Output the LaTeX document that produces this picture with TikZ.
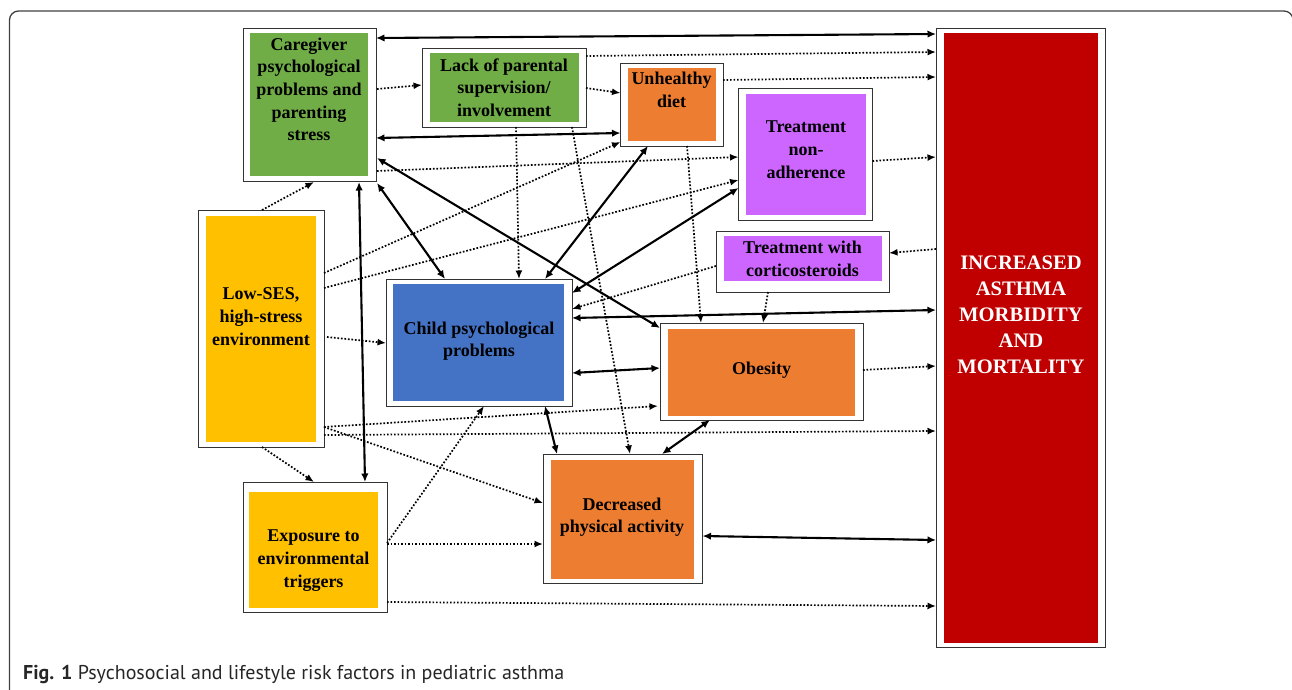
\documentclass[tikz,border=0pt]{standalone}
\usepackage{fontspec}
\usetikzlibrary{arrows.meta,calc}
\newfontfamily\lblfam{Liberation Serif}
\newfontfamily\capfam{PT Sans}
\definecolor{cgreen}{HTML}{70AD47}
\definecolor{corange}{HTML}{ED7D31}
\definecolor{cblue}{HTML}{4472C4}
\definecolor{cyellow}{HTML}{FFC000}
\definecolor{cpurple}{HTML}{CC66FF}
\definecolor{cred}{HTML}{C00000}
\tikzset{
 outerbox/.style={draw=black!80, line width=0.9pt, fill=white, inner sep=0pt, outer sep=0pt},
 innerbox/.style={inner sep=0pt, outer sep=0pt},
 lbl/.style={font=\lblfam\bfseries\fontsize{18}{22.7}\selectfont, align=center, inner sep=0pt, text=black},
 redlbl/.style={font=\lblfam\bfseries\fontsize{20.6}{26}\selectfont, align=center, inner sep=0pt, text=white},
 sol/.style={line width=2.1pt, {Latex[length=8.5pt,width=7.5pt]}-{Latex[length=8.5pt,width=7.5pt]}},
 dot/.style={line width=1.7pt, dash pattern=on 1.7pt off 1.8pt, -{Latex[length=8.5pt,width=7pt]}},
 frame/.style={draw=black!75, line width=1.3pt, rounded corners=9pt},
}
\begin{document}
\begin{tikzpicture}[x=1pt,y=-1pt]
\useasboundingbox (0,0) rectangle (1292,689);
\draw[frame] (9.5,11) rectangle (1293,720);

% boxes
\node[outerbox, minimum width=133pt, minimum height=153pt] (cg) at (309.5,104.5) {};
\node[innerbox, fill=cgreen, minimum width=118pt, minimum height=143pt] (cgi) at (309,104.5) {};
\node[lbl] (cgt) at (309,89.25) {Caregiver\\psychological\\problems and\\parenting\\stress};

\node[outerbox, minimum width=164pt, minimum height=79pt] (lack) at (504,87.5) {};
\node[innerbox, fill=cgreen, minimum width=149pt, minimum height=69pt] (lacki) at (504,87.5) {};
\node[lbl] (lackt) at (504,87.5) {Lack of parental\\supervision/\\involvement};

\node[outerbox, minimum width=102.5pt, minimum height=83pt] (diet) at (671.75,104.5) {};
\node[innerbox, fill=corange, minimum width=88.5pt, minimum height=73pt] (dieti) at (671.75,104.5) {};
\node[lbl] (diett) at (671.5,90.15) {Unhealthy\\diet};

\node[outerbox, minimum width=134pt, minimum height=132pt] (tna) at (805.5,154) {};
\node[innerbox, fill=cpurple, minimum width=120pt, minimum height=121pt] (tnai) at (806,154.5) {};
\node[lbl] (tnat) at (806,149.55) {Treatment\\non-\\adherence};

\node[outerbox, minimum width=173pt, minimum height=61pt] (tcs) at (802.5,261.5) {};
\node[innerbox, fill=cpurple, minimum width=158pt, minimum height=45pt] (tcsi) at (803,258.5) {};
\node[lbl] (tcst) at (802.5,259.15) {Treatment with\\corticosteroids};

\node[outerbox, minimum width=126pt, minimum height=237pt] (ses) at (261,328.5) {};
\node[innerbox, fill=cyellow, minimum width=110pt, minimum height=226pt] (sesi) at (261,329) {};
\node[lbl] (sest) at (261,316.55) {Low-SES,\\high-stress\\environment};

\node[outerbox, minimum width=186pt, minimum height=127pt] (cpp) at (479,342.5) {};
\node[innerbox, fill=cblue, minimum width=171pt, minimum height=117pt] (cppi) at (478.5,342.5) {};
\node[lbl] (cppt) at (479,341.15) {Child psychological\\problems};

\node[outerbox, minimum width=203pt, minimum height=97pt] (obe) at (761.5,371.5) {};
\node[innerbox, fill=corange, minimum width=187pt, minimum height=87pt] (obei) at (761.5,372.5) {};
\node[lbl] (obet) at (761.5,369.8) {Obesity};

\node[outerbox, minimum width=159.5pt, minimum height=129pt] (dpa) at (622.75,518.5) {};
\node[innerbox, fill=corange, minimum width=143pt, minimum height=119pt] (dpai) at (622.5,519.5) {};
\node[lbl] (dpat) at (622,517.15) {Decreased\\physical activity};

\node[outerbox, minimum width=144pt, minimum height=130pt] (exp) at (315,547) {};
\node[innerbox, fill=cyellow, minimum width=129pt, minimum height=116pt] (expi) at (313.5,550) {};
\node[lbl] (expt) at (313.5,560.6) {Exposure to\\environmental\\triggers};

\node[outerbox, minimum width=169pt, minimum height=619pt] (red) at (1020.5,337.5) {};
\node[innerbox, fill=cred, minimum width=154pt, minimum height=610pt] (redi) at (1021,338) {};
\node[redlbl] (redt) at (1021,315) {INCREASED\\ASTHMA\\MORBIDITY\\AND\\MORTALITY};

% solid double arrows
\draw[sol] ($(cg.north east)+(0,10)$) -- ($(red.north west)+(0,6)$);
\draw[sol] ($(cg.north east)+(0,110)$) -- ($(diet.north west)+(0,70)$);
\draw[sol] ($(cg.south east)+(1,2)$) -- ($(cpp.north west)+(59,0)$);
\draw[sol] ($(cg.north east)+(1,130)$) -- ($(obe.north west)+(0,5)$);
\draw[sol] ($(cg.south east)+(-17,1)$) -- ($(exp.north west)+(122,0)$);
\draw[sol] ($(diet.south west)+(27.5,0)$) -- ($(cpp.north west)+(159,0)$);
\draw[sol] ($(cpp.north east)+(0,14)$) -- ($(tna.north west)+(0,100)$);
\draw[sol] ($(cpp.north east)+(0,39)$) -- ($(red.north west)+(0,282)$);
\draw[sol] ($(cpp.north east)+(0,94)$) -- ($(obe.north west)+(0,45)$);
\draw[sol] ($(cpp.south west)+(159,0)$) -- ($(dpa.north west)+(14,0)$);
\draw[sol] ($(obe.south west)+(50,0)$) -- ($(dpa.north west)+(119,0)$);
\draw[sol] ($(dpa.north east)+(0,82)$) -- ($(red.north west)+(0,512)$);

% dotted arrows
\draw[dot] ($(cg.north east)+(1,61)$) -- ($(lack.north west)+(0,37)$);
\draw[dot] ($(cg.north east)+(1,143)$) -- ($(tna.north west)+(0,69)$);
\draw[dot] ($(ses.north)+(1,0)$) -- ($(cg.south west)+(71,1)$);
\draw[dot] ($(ses.north east)+(0,63)$) -- ($(diet.south west)+(0,-4)$);
\draw[dot] ($(ses.north east)+(0,78)$) -- ($(tna.north west)+(0,92)$);
\draw[dot] ($(ses.north east)+(3,127)$) -- ($(cpp.north west)+(0,64)$);
\draw[dot] ($(ses.south east)+(0,-20)$) -- ($(obe.south west)+(-2,-14)$);
\draw[dot] ($(ses.south east)+(0,-12)$) -- ($(red.north west)+(0,403)$);
\draw[dot] ($(ses.south east)+(0,-20)$) -- ($(dpa.north west)+(0,49)$);
\draw[dot] ($(ses.south)+(1,0)$) -- ($(exp.north west)+(71,0)$);
\draw[dot] ($(lack.south west)+(94,0)$) -- ($(cpp.north west)+(133,0)$);
\draw[dot] ($(lack.south west)+(150,0)$) -- ($(dpa.north west)+(87,0)$);
\draw[dot] ($(lack.north east)+(0,40)$) -- ($(diet.north west)+(0,30)$);
\draw[dot] ($(lack.north east)+(0,8)$) -- ($(red.north west)+(0,24)$);
\draw[dot] ($(diet.north east)+(0,17)$) -- ($(red.north west)+(0,49)$);
\draw[dot] ($(diet.south west)+(66.5,0)$) -- ($(obe.north west)+(41,0)$);
\draw[dot] ($(tna.north east)+(0,73)$) -- ($(red.north west)+(0,129)$);
\draw[dot] ($(red.north west)+(0,221)$) -- ($(tcs.north east)+(0,22)$);
\draw[dot] ($(tcs.north west)+(0,35)$) -- ($(cpp.north east)+(0,30)$);
\draw[dot] ($(tcs.south west)+(52,0)$) -- ($(obe.north west)+(103,0)$);
\draw[dot] ($(obe.north east)+(0,47)$) -- ($(red.north west)+(0,338)$);
\draw[dot] ($(exp.north east)+(0,61)$) -- ($(cpp.south west)+(98,0)$);
\draw[dot] ($(exp.north east)+(0,62)$) -- ($(dpa.north west)+(0,90)$);
\draw[dot] ($(exp.north east)+(0,120)$) -- ($(red.north west)+(0,578)$);

% caption
\node[anchor=base west, inner sep=0pt, font=\capfam\fontsize{20}{22}\selectfont, text=black!85] (cap) at (23,679) {\textbf{Fig. 1} Psychosocial and lifestyle risk factors in pediatric asthma};
\end{tikzpicture}
\end{document}
